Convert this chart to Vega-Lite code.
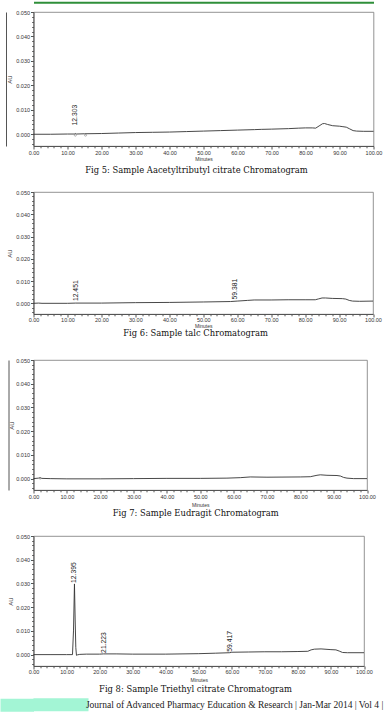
{
  "$schema": "https://vega.github.io/schema/vega-lite/v6.json",
  "background": "white",
  "padding": {"left": 5.5, "top": 1, "right": 0, "bottom": 0},
  "bounds": "flush",
  "spacing": 46,
  "title": {
    "text": "Journal of Advanced Pharmacy Education & Research  |  Jan-Mar 2014  |  Vol 4  |",
    "orient": "bottom", "anchor": "end", "frame": "bounds", "offset": -11.5, "dx": 1,
    "font": "Liberation Serif", "fontSize": 9.5, "fontWeight": "normal", "color": "#222"
  },
  "config": {
    "view": {"stroke": "#777", "strokeWidth": 0.8},
    "title": {"orient": "bottom", "anchor": "middle", "frame": "group", "font": "DejaVu Serif", "fontSize": 8.4, "fontWeight": "normal", "color": "#111"},
    "axis": {"grid": false, "domainColor": "#555", "tickColor": "#555", "labelColor": "#333", "labelFont": "Liberation Sans", "labelFontSize": 5.5, "titleFont": "Liberation Sans", "titleFontWeight": "normal", "titleColor": "#333"},
    "axisX": {"titleFontSize": 5},
    "axisY": {"titleFontSize": 6}
  },
  "datasets": {
    "fig5": [
      {"t": 0, "au": 0.0}, {"t": 5, "au": 0.0}, {"t": 10, "au": 0.0001}, {"t": 12, "au": 0.0001}, {"t": 12.3, "au": 0.0003}, {"t": 12.6, "au": 0.0001},
      {"t": 15, "au": 0.0002}, {"t": 20, "au": 0.0003}, {"t": 25, "au": 0.0005}, {"t": 30, "au": 0.0007}, {"t": 35, "au": 0.0008}, {"t": 40, "au": 0.0009},
      {"t": 45, "au": 0.0011}, {"t": 50, "au": 0.0013}, {"t": 55, "au": 0.0015}, {"t": 60, "au": 0.0017}, {"t": 65, "au": 0.0019}, {"t": 67, "au": 0.0020},
      {"t": 70, "au": 0.0021}, {"t": 75, "au": 0.0023}, {"t": 78, "au": 0.0025}, {"t": 80, "au": 0.0026}, {"t": 82, "au": 0.0026}, {"t": 83, "au": 0.0025},
      {"t": 84, "au": 0.0034}, {"t": 85, "au": 0.0043}, {"t": 85.6, "au": 0.0044}, {"t": 86.5, "au": 0.0040}, {"t": 88, "au": 0.0035}, {"t": 90, "au": 0.0033},
      {"t": 91, "au": 0.0031}, {"t": 92, "au": 0.0029}, {"t": 93, "au": 0.0022}, {"t": 94, "au": 0.0015}, {"t": 95, "au": 0.0013}, {"t": 97, "au": 0.0012}, {"t": 100, "au": 0.0012}
    ],
    "fig6": [
      {"t": 0, "au": 0.0}, {"t": 1.5, "au": 0.0001}, {"t": 2.5, "au": 0.0}, {"t": 10, "au": 0.0}, {"t": 12.45, "au": 0.0001}, {"t": 20, "au": 0.0001},
      {"t": 30, "au": 0.0003}, {"t": 40, "au": 0.0004}, {"t": 50, "au": 0.0006}, {"t": 58, "au": 0.0008}, {"t": 60, "au": 0.0010}, {"t": 63, "au": 0.0013},
      {"t": 65, "au": 0.0015}, {"t": 70, "au": 0.0015}, {"t": 75, "au": 0.0016}, {"t": 80, "au": 0.0016}, {"t": 83, "au": 0.0016}, {"t": 84, "au": 0.0020},
      {"t": 85, "au": 0.0024}, {"t": 86, "au": 0.0024}, {"t": 88, "au": 0.0022}, {"t": 91, "au": 0.0021}, {"t": 92, "au": 0.0019}, {"t": 93, "au": 0.0013},
      {"t": 94, "au": 0.0010}, {"t": 96, "au": 0.0009}, {"t": 100, "au": 0.0010}
    ],
    "fig7": [
      {"t": 0, "au": 0.0}, {"t": 1.5, "au": 0.0002}, {"t": 2, "au": 0.0004}, {"t": 2.5, "au": 0.0001}, {"t": 5, "au": 0.0}, {"t": 10, "au": -0.0001},
      {"t": 20, "au": -0.0001}, {"t": 30, "au": 0.0}, {"t": 40, "au": 0.0001}, {"t": 50, "au": 0.0001}, {"t": 58, "au": 0.0002}, {"t": 62, "au": 0.0004},
      {"t": 65, "au": 0.0007}, {"t": 70, "au": 0.0006}, {"t": 80, "au": 0.0007}, {"t": 83, "au": 0.0008}, {"t": 85, "au": 0.0014}, {"t": 86, "au": 0.0016},
      {"t": 88, "au": 0.0014}, {"t": 91, "au": 0.0013}, {"t": 92, "au": 0.0011}, {"t": 93, "au": 0.0005}, {"t": 94, "au": 0.0002}, {"t": 96, "au": 0.0}, {"t": 100, "au": 0.0}
    ],
    "fig8": [
      {"t": 0, "au": 0.0}, {"t": 5, "au": 0.0}, {"t": 10, "au": 0.0}, {"t": 11.8, "au": 0.0}, {"t": 12.1, "au": 0.0100}, {"t": 12.395, "au": 0.0298},
      {"t": 12.6, "au": 0.0150}, {"t": 12.8, "au": 0.0030}, {"t": 13.0, "au": -0.0003}, {"t": 13.3, "au": -0.0001}, {"t": 14, "au": 0.0001}, {"t": 16, "au": 0.0002},
      {"t": 20, "au": 0.0002}, {"t": 21.2, "au": 0.0003}, {"t": 25, "au": 0.0003}, {"t": 30, "au": 0.0002}, {"t": 40, "au": 0.0002}, {"t": 50, "au": 0.0004},
      {"t": 55, "au": 0.0006}, {"t": 59.4, "au": 0.0008}, {"t": 60, "au": 0.0010}, {"t": 65, "au": 0.0011}, {"t": 70, "au": 0.0012}, {"t": 75, "au": 0.0012},
      {"t": 80, "au": 0.0013}, {"t": 83, "au": 0.0014}, {"t": 84, "au": 0.0020}, {"t": 85, "au": 0.0023}, {"t": 87, "au": 0.0024}, {"t": 90, "au": 0.0021},
      {"t": 91.5, "au": 0.0020}, {"t": 92.5, "au": 0.0015}, {"t": 93.5, "au": 0.0009}, {"t": 95, "au": 0.0008}, {"t": 100, "au": 0.0008}
    ],
    "peaks5": [{"t": 12.303, "au": 0.0003, "label": "12.303"}],
    "peaks6": [{"t": 12.451, "au": 0.0001, "label": "12.451"}, {"t": 59.381, "au": 0.0008, "label": "59.381"}],
    "peaks8": [{"t": 12.395, "au": 0.0298, "label": "12.395"}, {"t": 21.223, "au": 0.0003, "label": "21.223"}, {"t": 59.417, "au": 0.0008, "label": "59.417"}],
    "marks5": [{"t": 12.3, "au": -0.0004}, {"t": 15.3, "au": -0.0004}],
    "marks7": [{"t": 2.0, "au": 0.0}],
    "footer": [{"part": "footer band"}]
  },
  "vconcat": [
    {
      "width": 340, "height": 134,
      "title": {"text": "Fig 5: Sample Aacetyltributyl citrate  Chromatogram", "dx": -7, "offset": 4},
      "resolve": {"axis": {"x": "independent", "y": "independent"}},
      "layer": [
        {
          "data": {"name": "fig5"},
          "mark": {"type": "line", "color": "#333", "strokeWidth": 0.9},
          "encoding": {
            "x": {"field": "t", "type": "quantitative", "scale": {"domain": [0, 100], "nice": false},
              "axis": {"title": "Minutes", "titlePadding": 1, "values": [0,2,4,6,8,10,12,14,16,18,20,22,24,26,28,30,32,34,36,38,40,42,44,46,48,50,52,54,56,58,60,62,64,66,68,70,72,74,76,78,80,82,84,86,88,90,92,94,96,98,100],
                "labelExpr": "datum.value % 10 === 0 ? format(datum.value, '.2f') : ''", "labelPadding": 1, "labelFlush": false, "labelOverlap": false,
                "tickSize": {"condition": {"test": "datum.value % 10 === 0", "value": 3}, "value": 1.8}}},
            "y": {"field": "au", "type": "quantitative", "scale": {"domain": [-0.0048, 0.05], "nice": false, "zero": false},
              "axis": {"title": "AU", "titlePadding": 3, "values": [-0.004,-0.002,0,0.002,0.004,0.006,0.008,0.01,0.012,0.014,0.016,0.018,0.02,0.022,0.024,0.026,0.028,0.03,0.032,0.034,0.036,0.038,0.04,0.042,0.044,0.046,0.048,0.05],
                "labelExpr": "abs(datum.value*100 - round(datum.value*100)) < 0.001 ? format(datum.value, '.3f') : ''", "labelPadding": 1, "labelFlush": false, "labelOverlap": false,
                "tickSize": {"condition": {"test": "abs(datum.value*100 - round(datum.value*100)) < 0.001", "value": 3}, "value": 1.8}}}
          }
        },
        {
          "data": {"name": "marks5"},
          "mark": {"type": "point", "shape": "circle", "size": 4, "color": "#555", "strokeWidth": 0.6},
          "encoding": {
            "x": {"field": "t", "type": "quantitative", "scale": {"domain": [0, 100], "nice": false},
              "axis": {"orient": "top", "offset": 9.7, "domainColor": "#2f8f3a", "domainWidth": 2, "labels": false, "ticks": false, "title": null}},
            "y": {"field": "au", "type": "quantitative", "scale": {"domain": [-0.0048, 0.05], "nice": false, "zero": false},
              "axis": {"orient": "left", "offset": 27.5, "domainColor": "#555", "labels": false, "ticks": false, "title": null}}
          }
        },
        {
          "data": {"name": "peaks5"},
          "mark": {"type": "text", "angle": 270, "align": "left", "baseline": "middle", "dx": 8, "font": "Liberation Sans", "fontSize": 6.8, "color": "#222"},
          "encoding": {
            "x": {"field": "t", "type": "quantitative", "scale": {"domain": [0, 100], "nice": false}, "axis": null},
            "y": {"field": "au", "type": "quantitative", "scale": {"domain": [-0.0048, 0.05], "nice": false, "zero": false}, "axis": null},
            "text": {"field": "label"}
          }
        }
      ]
    },
    {
      "width": 339.5, "height": 122,
      "title": {"text": "Fig 6: Sample talc Chromatogram", "dx": -7.7, "offset": 0},
      "resolve": {"axis": {"x": "independent", "y": "independent"}},
      "layer": [
        {
          "data": {"name": "fig6"},
          "mark": {"type": "line", "color": "#333", "strokeWidth": 0.9},
          "encoding": {
            "x": {"field": "t", "type": "quantitative", "scale": {"domain": [0, 100], "nice": false},
              "axis": {"title": "Minutes", "titlePadding": 0.5, "values": [0,2,4,6,8,10,12,14,16,18,20,22,24,26,28,30,32,34,36,38,40,42,44,46,48,50,52,54,56,58,60,62,64,66,68,70,72,74,76,78,80,82,84,86,88,90,92,94,96,98,100],
                "labelExpr": "datum.value % 10 === 0 ? format(datum.value, '.2f') : ''", "labelPadding": 0.5, "labelFlush": false, "labelOverlap": false,
                "tickSize": {"condition": {"test": "datum.value % 10 === 0", "value": 3}, "value": 1.8}}},
            "y": {"field": "au", "type": "quantitative", "scale": {"domain": [-0.0048, 0.05], "nice": false, "zero": false},
              "axis": {"title": "AU", "titlePadding": 3, "values": [-0.004,-0.002,0,0.002,0.004,0.006,0.008,0.01,0.012,0.014,0.016,0.018,0.02,0.022,0.024,0.026,0.028,0.03,0.032,0.034,0.036,0.038,0.04,0.042,0.044,0.046,0.048,0.05],
                "labelExpr": "abs(datum.value*100 - round(datum.value*100)) < 0.001 ? format(datum.value, '.3f') : ''", "labelPadding": 1, "labelFlush": false, "labelOverlap": false,
                "tickSize": {"condition": {"test": "abs(datum.value*100 - round(datum.value*100)) < 0.001", "value": 3}, "value": 1.8}}}
          }
        },
        {
          "data": {"name": "peaks6"},
          "mark": {"type": "text", "angle": 270, "align": "left", "baseline": "middle", "dx": 2, "font": "Liberation Sans", "fontSize": 6.8, "color": "#222"},
          "encoding": {
            "x": {"field": "t", "type": "quantitative", "scale": {"domain": [0, 100], "nice": false}, "axis": null},
            "y": {"field": "au", "type": "quantitative", "scale": {"domain": [-0.0048, 0.05], "nice": false, "zero": false}, "axis": null},
            "text": {"field": "label"}
          }
        }
      ]
    },
    {
      "width": 333.5, "height": 130,
      "title": {"text": "Fig 7: Sample Eudragit  Chromatogram", "dx": -4.5, "offset": 1.5},
      "resolve": {"axis": {"x": "independent", "y": "independent"}},
      "layer": [
        {
          "data": {"name": "fig7"},
          "mark": {"type": "line", "color": "#333", "strokeWidth": 0.9},
          "encoding": {
            "x": {"field": "t", "type": "quantitative", "scale": {"domain": [0, 100], "nice": false},
              "axis": {"title": "Minutes", "titlePadding": 2.5, "values": [0,2,4,6,8,10,12,14,16,18,20,22,24,26,28,30,32,34,36,38,40,42,44,46,48,50,52,54,56,58,60,62,64,66,68,70,72,74,76,78,80,82,84,86,88,90,92,94,96,98,100],
                "labelExpr": "datum.value % 10 === 0 ? format(datum.value, '.2f') : ''", "labelPadding": 1, "labelFlush": false, "labelOverlap": false,
                "tickSize": {"condition": {"test": "datum.value % 10 === 0", "value": 3}, "value": 1.8}}},
            "y": {"field": "au", "type": "quantitative", "scale": {"domain": [-0.0048, 0.05], "nice": false, "zero": false},
              "axis": {"title": "AU", "titlePadding": 1, "values": [-0.004,-0.002,0,0.002,0.004,0.006,0.008,0.01,0.012,0.014,0.016,0.018,0.02,0.022,0.024,0.026,0.028,0.03,0.032,0.034,0.036,0.038,0.04,0.042,0.044,0.046,0.048,0.05],
                "labelExpr": "abs(datum.value*100 - round(datum.value*100)) < 0.001 ? format(datum.value, '.3f') : ''", "labelPadding": 1, "labelFlush": false, "labelOverlap": false,
                "tickSize": {"condition": {"test": "abs(datum.value*100 - round(datum.value*100)) < 0.001", "value": 3}, "value": 1.8}}}
          }
        },
        {
          "data": {"name": "marks7"},
          "mark": {"type": "point", "shape": "circle", "size": 2, "color": "#555", "strokeWidth": 0.5},
          "encoding": {
            "x": {"field": "t", "type": "quantitative", "scale": {"domain": [0, 100], "nice": false}, "axis": null},
            "y": {"field": "au", "type": "quantitative", "scale": {"domain": [-0.0048, 0.05], "nice": false, "zero": false},
              "axis": {"orient": "left", "offset": 25, "domainColor": "#555", "labels": false, "ticks": false, "title": null}}
          }
        }
      ]
    },
    {
      "bounds": "flush",
      "spacing": 32.3,
      "vconcat": [
        {
          "width": 330.5, "height": 130,
          "title": {"text": "Fig 8: Sample Triethyl citrate Chromatogram", "dx": -3.2, "offset": 2},
          "resolve": {"axis": {"x": "independent", "y": "independent"}},
          "layer": [
            {
              "data": {"name": "fig8"},
              "mark": {"type": "line", "color": "#333", "strokeWidth": 0.9},
              "encoding": {
                "x": {"field": "t", "type": "quantitative", "scale": {"domain": [0, 100], "nice": false},
                  "axis": {"title": "Minutes", "titlePadding": 2.5, "values": [0,2,4,6,8,10,12,14,16,18,20,22,24,26,28,30,32,34,36,38,40,42,44,46,48,50,52,54,56,58,60,62,64,66,68,70,72,74,76,78,80,82,84,86,88,90,92,94,96,98,100],
                    "labelExpr": "datum.value % 10 === 0 ? format(datum.value, '.2f') : ''", "labelPadding": 0.5, "labelFlush": false, "labelOverlap": false,
                    "tickSize": {"condition": {"test": "datum.value % 10 === 0", "value": 3}, "value": 1.8}}},
                "y": {"field": "au", "type": "quantitative", "scale": {"domain": [-0.0048, 0.05], "nice": false, "zero": false},
                  "axis": {"title": "AU", "titlePadding": 2.5, "values": [-0.004,-0.002,0,0.002,0.004,0.006,0.008,0.01,0.012,0.014,0.016,0.018,0.02,0.022,0.024,0.026,0.028,0.03,0.032,0.034,0.036,0.038,0.04,0.042,0.044,0.046,0.048,0.05],
                    "labelExpr": "abs(datum.value*100 - round(datum.value*100)) < 0.001 ? format(datum.value, '.3f') : ''", "labelPadding": 1, "labelFlush": false, "labelOverlap": false,
                    "tickSize": {"condition": {"test": "abs(datum.value*100 - round(datum.value*100)) < 0.001", "value": 3}, "value": 1.8}}}
              }
            },
            {
              "data": {"name": "peaks8"},
              "mark": {"type": "text", "angle": 270, "align": "left", "baseline": "middle", "dx": 1, "font": "Liberation Sans", "fontSize": 6.8, "color": "#222"},
              "encoding": {
                "x": {"field": "t", "type": "quantitative", "scale": {"domain": [0, 100], "nice": false}, "axis": null},
                "y": {"field": "au", "type": "quantitative", "scale": {"domain": [-0.0048, 0.05], "nice": false, "zero": false}, "axis": null},
                "text": {"field": "label"}
              }
            }
          ]
        },
        {
          "width": 55, "height": 13,
          "view": {"fill": "#a3f5d5", "stroke": null},
          "data": {"name": "footer"},
          "mark": {"type": "text", "text": ""},
          "encoding": {
            "y": {"field": "part", "type": "nominal",
              "axis": {"orient": "left", "offset": 16.75, "domainColor": "#a3f5d5", "domainWidth": 33.5, "labels": false, "ticks": false, "title": null}}
          }
        }
      ]
    }
  ]
}
